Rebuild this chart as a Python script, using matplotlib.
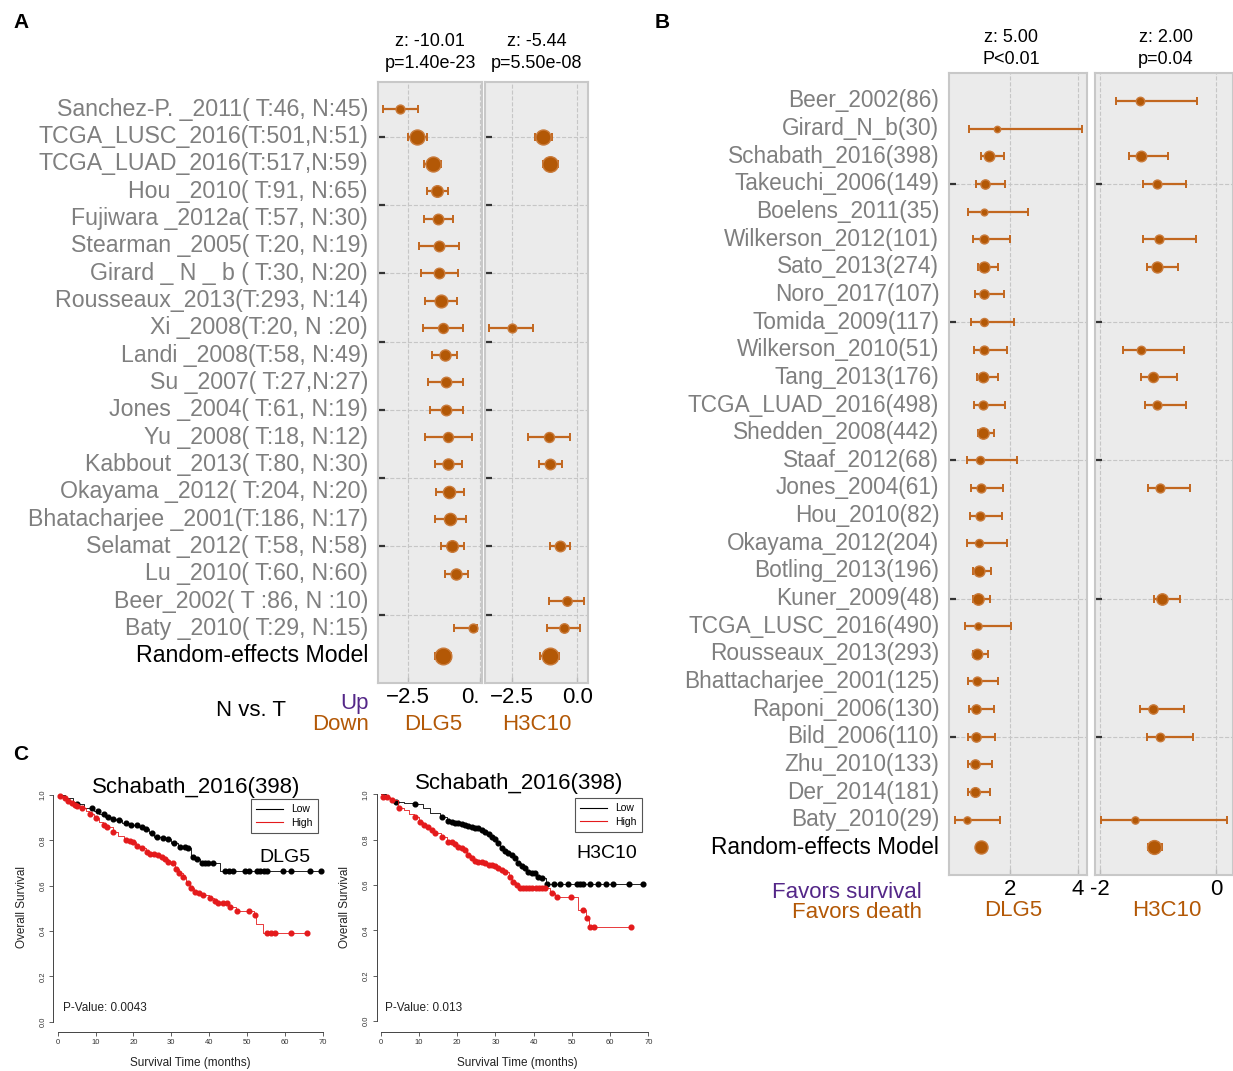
import numpy as np
import matplotlib
matplotlib.use("Agg")
import matplotlib.pyplot as plt

plt.rcParams["font.family"] = ["Liberation Sans", "DejaVu Sans"]

nan = np.nan

# %% Panel A data: N vs. T (log fold change with CI)
a_labels = [
    "Sanchez-P. _2011( T:46, N:45)", "TCGA_LUSC_2016(T:501,N:51)",
    "TCGA_LUAD_2016(T:517,N:59)", "Hou _2010( T:91, N:65)",
    "Fujiwara _2012a( T:57, N:30)", "Stearman _2005( T:20, N:19)",
    "Girard _ N _ b ( T:30, N:20)", "Rousseaux_2013(T:293, N:14)",
    "Xi _2008(T:20, N :20)", "Landi _2008(T:58, N:49)",
    "Su _2007( T:27,N:27)", "Jones _2004( T:61, N:19)",
    "Yu _2008( T:18, N:12)", "Kabbout _2013( T:80, N:30)",
    "Okayama _2012( T:204, N:20)", "Bhatacharjee _2001(T:186, N:17)",
    "Selamat _2012( T:58, N:58)", "Lu _2010( T:60, N:60)",
    "Beer_2002( T :86, N :10)", "Baty _2010( T:29, N:15)",
    "Random-effects Model",
]
a_dlg5_est = [-2.77, -2.18, -1.65, -1.49, -1.45, -1.44, -1.43, -1.37, -1.30, -1.23,
              -1.20, -1.17, -1.11, -1.10, -1.07, -1.06, -0.98, -0.83, nan, -0.23, -1.30]
a_dlg5_lo = [-3.37, -2.50, -1.94, -1.84, -1.95, -2.14, -2.06, -1.91, -2.00, -1.67,
             -1.80, -1.74, -1.91, -1.56, -1.53, -1.58, -1.37, -1.22, nan, -0.89, -1.56]
a_dlg5_hi = [-2.17, -1.84, -1.35, -1.10, -0.93, -0.73, -0.78, -0.80, -0.59, -0.80,
             -0.59, -0.59, -0.29, -0.62, -0.56, -0.49, -0.56, -0.42, nan, -0.09, -1.00]
a_dlg5_w = [0.3, 0.85, 0.85, 0.55, 0.45, 0.45, 0.45, 0.65, 0.4, 0.5,
            0.45, 0.45, 0.4, 0.5, 0.6, 0.6, 0.55, 0.5, nan, 0.3, 1.0]

a_h3c10_est = [nan, -1.32, -1.04, nan, nan, nan, nan, nan, -2.50, nan,
               nan, nan, -1.08, -1.03, nan, nan, -0.67, nan, -0.40, -0.52, -1.03]
a_h3c10_lo = [nan, -1.61, -1.32, nan, nan, nan, nan, nan, -3.36, nan,
              nan, nan, -1.87, -1.47, nan, nan, -1.04, nan, -1.07, -1.16, -1.41]
a_h3c10_hi = [nan, -0.98, -0.75, nan, nan, nan, nan, nan, -1.68, nan,
              nan, nan, -0.28, -0.58, nan, nan, -0.28, nan, 0.26, 0.10, -0.69]
a_h3c10_w = [nan, 0.85, 0.9, nan, nan, nan, nan, nan, 0.3, nan,
             nan, nan, 0.4, 0.45, nan, nan, 0.45, nan, 0.35, 0.35, 1.0]

a_titles = [("z: -10.01", "p=1.40e-23"), ("z: -5.44", "p=5.50e-08")]

# %% Panel B data: survival (HR with CI)
b_labels = [
    "Beer_2002(86)", "Girard_N_b(30)", "Schabath_2016(398)", "Takeuchi_2006(149)",
    "Boelens_2011(35)", "Wilkerson_2012(101)", "Sato_2013(274)", "Noro_2017(107)",
    "Tomida_2009(117)", "Wilkerson_2010(51)", "Tang_2013(176)", "TCGA_LUAD_2016(498)",
    "Shedden_2008(442)", "Staaf_2012(68)", "Jones_2004(61)", "Hou_2010(82)",
    "Okayama_2012(204)", "Botling_2013(196)", "Kuner_2009(48)", "TCGA_LUSC_2016(490)",
    "Rousseaux_2013(293)", "Bhattacharjee_2001(125)", "Raponi_2006(130)", "Bild_2006(110)",
    "Zhu_2010(133)", "Der_2014(181)", "Baty_2010(29)", "Random-effects Model",
]
b_dlg5_est = [nan, 1.61, 1.36, 1.25, 1.23, 1.22, 1.23, 1.22, 1.21, 1.21, 1.20, 1.20, 1.18, 1.12,
              1.13, 1.10, 1.07, 1.07, 1.04, 1.04, 1.01, 1.01, 0.99, 0.98, 0.96, 0.96, 0.72, 1.13]
b_dlg5_lo = [nan, 0.79, 1.13, 0.99, 0.76, 0.89, 1.04, 0.96, 0.84, 0.92, 1.01, 0.93, 1.05, 0.71,
             0.84, 0.82, 0.73, 0.90, 0.90, 0.66, 0.91, 0.76, 0.77, 0.74, 0.75, 0.76, 0.38, 1.08]
b_dlg5_hi = [nan, 4.10, 1.81, 1.84, 2.51, 1.99, 1.65, 1.82, 2.11, 1.90, 1.65, 1.84, 1.52, 2.19,
             1.79, 1.75, 1.90, 1.42, 1.39, 2.02, 1.34, 1.63, 1.51, 1.55, 1.47, 1.40, 1.69, 1.18]
b_dlg5_w = [nan, 0.1, 0.6, 0.45, 0.15, 0.4, 0.65, 0.45, 0.3, 0.4, 0.6, 0.4, 0.7, 0.3,
            0.4, 0.4, 0.3, 0.65, 0.7, 0.2, 0.6, 0.4, 0.45, 0.45, 0.45, 0.5, 0.2, 0.9]

b_h3c10_est = [-1.32, nan, -1.30, -1.03, nan, -0.99, -1.03, nan, nan, -1.29, -1.10, -1.02, nan, nan,
               -0.97, nan, nan, nan, -0.94, nan, nan, nan, -1.09, -0.97, nan, nan, -1.40, -1.07]
b_h3c10_lo = [-1.72, nan, -1.51, -1.26, nan, -1.26, -1.19, nan, nan, -1.61, -1.29, -1.23, nan, nan,
              -1.18, nan, nan, nan, -1.08, nan, nan, nan, -1.32, -1.19, nan, nan, -1.99, -1.17]
b_h3c10_hi = [-0.33, nan, -0.84, -0.52, nan, -0.35, -0.67, nan, nan, -0.55, -0.68, -0.53, nan, nan,
              -0.45, nan, nan, nan, -0.63, nan, nan, nan, -0.56, -0.41, nan, nan, 0.18, -0.93]
b_h3c10_w = [0.35, nan, 0.6, 0.4, nan, 0.4, 0.65, nan, nan, 0.35, 0.55, 0.4, nan, nan,
             0.4, nan, nan, nan, 0.7, nan, nan, nan, 0.45, 0.35, nan, nan, 0.2, 1.0]

b_titles = [("z: 5.00", "P<0.01"), ("z: 2.00", "p=0.04")]

# %% Panel C data: Kaplan-Meier steps (time, survival) and censor times
km_dlg5_low_t = [0, 2, 4, 4.8, 7, 9.5, 11, 12.5, 14, 15.5, 17, 18.8, 21.5, 22.8, 24, 25.5,
                 27.3, 28.8, 30, 31.8, 34, 35.3, 36.3, 37.5, 42.8]
km_dlg5_low_s = [1.0, 0.985, 0.97, 0.959, 0.944, 0.93, 0.918, 0.905, 0.894, 0.89, 0.876, 0.866,
                 0.86, 0.849, 0.831, 0.816, 0.812, 0.804, 0.79, 0.772, 0.765, 0.728, 0.716, 0.699, 0.665]
km_dlg5_low_c = [5.0, 9.0, 10.7, 12.1, 13.4, 14.5, 16.3, 18.0, 19.4, 20.9, 22.2, 23.2, 24.8, 26.2,
                 27.9, 29.2, 30.6, 32.3, 33.6, 34.5, 35.8, 36.7, 38.0, 38.9, 39.8, 41.1, 44.2, 45.1,
                 46.4, 49.4, 50.4, 52.6, 53.5, 54.4, 55.3, 59.6, 61.5, 66.7, 69.6]

km_dlg5_high_t = [0, 0.5, 1.5, 2.5, 3.5, 4.3, 5.0, 6.0, 7.5, 8.3, 9.5, 10.0, 11.0, 12.0, 12.8,
                  14.5, 16.0, 17.5, 19.0, 19.8, 20.8, 22.0, 23.3, 24.2, 25.2, 26.4, 27.3, 28.2,
                  29.0, 30.2, 31.0, 32.0, 33.0, 34.0, 35.0, 36.0, 37.2, 38.0, 40.0, 41.4, 42.2,
                  45.3, 47.0, 51.8, 52.3, 54.3]
km_dlg5_high_s = [1.0, 0.996, 0.985, 0.974, 0.963, 0.956, 0.951, 0.941, 0.93, 0.916, 0.905, 0.897,
                  0.88, 0.868, 0.86, 0.838, 0.82, 0.801, 0.797, 0.791, 0.775, 0.765, 0.75, 0.74,
                  0.738, 0.735, 0.728, 0.716, 0.704, 0.701, 0.676, 0.654, 0.64, 0.61, 0.588, 0.574,
                  0.566, 0.559, 0.547, 0.534, 0.522, 0.507, 0.488, 0.47, 0.43, 0.39]
km_dlg5_high_c = [0.6, 1.8, 2.8, 3.7, 4.6, 5.2, 6.3, 8.5, 10.1, 12.1, 12.9, 14.7, 18.0, 19.1, 20.0,
                  21.0, 22.2, 23.5, 24.4, 25.4, 26.6, 27.5, 28.4, 29.2, 30.4, 31.3, 32.1, 33.2,
                  34.3, 35.1, 36.3, 37.4, 38.3, 40.2, 41.6, 42.4, 43.6, 44.6, 45.5, 47.3, 50.4,
                  52.0, 55.2, 56.3, 57.4, 61.6, 65.8]

km_h3c10_low_t = [0, 1.5, 3, 6, 8.5, 11, 13, 15.5, 17.3, 18.3, 19.1, 20, 20.9, 21.8, 22.6, 23.5,
                  24.4, 25.2, 26, 27, 27.9, 28.7, 29.6, 30.5, 31.3, 32.2, 33.1, 34, 34.8, 35.7,
                  36.6, 37.4, 38.3, 39.2, 40.1, 41, 41.8, 43.2]
km_h3c10_low_s = [1.0, 0.985, 0.968, 0.962, 0.956, 0.94, 0.92, 0.899, 0.884, 0.879, 0.875, 0.872,
                  0.869, 0.865, 0.86, 0.857, 0.853, 0.85, 0.843, 0.835, 0.825, 0.813, 0.801, 0.784,
                  0.762, 0.751, 0.743, 0.732, 0.718, 0.696, 0.684, 0.674, 0.659, 0.654, 0.651,
                  0.637, 0.632, 0.603]
km_h3c10_low_c = [3.9, 9.0, 16.0, 17.7, 18.6, 19.4, 20.3, 21.2, 22.1, 22.9, 23.8, 24.7, 25.5, 26.4,
                  27.3, 28.2, 29.0, 29.9, 30.8, 31.6, 32.5, 33.4, 34.3, 35.1, 36.0, 36.9, 37.7,
                  38.6, 39.5, 40.4, 41.2, 42.1, 43.4, 45.2, 46.9, 49.1, 51.3, 52.1, 53.0, 54.7,
                  56.9, 58.9, 60.8, 64.9, 68.7]

km_h3c10_high_t = [0, 0.4, 1.4, 2.5, 4.5, 6, 7.5, 8.7, 10, 11.1, 12.2, 13, 13.9, 15.7, 17.4, 18.3,
                   19.1, 20, 20.9, 21.8, 22.6, 23.5, 24.4, 25.2, 26.1, 27, 27.9, 29.6, 30.5, 31.3,
                   32.2, 33.5, 34.4, 35.3, 36.1, 44.4, 45.7, 51.5, 53.6, 54.4]
km_h3c10_high_s = [1.0, 0.99, 0.987, 0.975, 0.941, 0.93, 0.915, 0.899, 0.879, 0.865, 0.854, 0.843,
                   0.831, 0.813, 0.791, 0.788, 0.781, 0.769, 0.762, 0.754, 0.732, 0.718, 0.707,
                   0.703, 0.700, 0.696, 0.688, 0.685, 0.674, 0.666, 0.659, 0.637, 0.615, 0.600,
                   0.588, 0.566, 0.549, 0.490, 0.453, 0.416]
km_h3c10_high_c = [0.7, 1.7, 2.9, 4.9, 9.0, 10.3, 11.4, 12.5, 13.3, 14.2, 16.0, 17.7, 18.6, 19.4,
                   20.3, 21.2, 22.1, 22.9, 23.8, 24.7, 25.5, 26.4, 27.3, 28.2, 29.0, 29.9, 30.8,
                   31.6, 32.5, 33.8, 34.7, 35.6, 36.4, 37.3, 38.1, 38.9, 39.7, 40.5, 41.3, 42.1,
                   42.9, 44.7, 46.0, 49.8, 52.8, 53.9, 54.7, 55.9, 65.6]

# %% Style
W, H = 1233, 1071
ORANGE = "#B35806"
PURPLE = "#542788"
BG = "#EBEBEB"
GRID = "#C6C6C6"
GRAYTXT = "#7F7F7F"


def rect(l, t, r, b):
    return [l / W, 1 - b / H, (r - l) / W, (b - t) / H]


def ftext(x, y, s, **kw):
    kw.setdefault("va", "center")
    fig.text(x / W, 1 - y / H, s, **kw)


def forest(ax, est, lo, hi, w, xlim, ylim, xticks, xlabels, ygrid, ms0, ms1):
    ax.set_facecolor(BG)
    for row, (e, l, h, s) in enumerate(zip(est, lo, hi, w)):
        if np.isnan(e):
            continue
        ax.errorbar(e, row, xerr=[[e - l], [h - e]], fmt="none", ecolor="#C2671F",
                    elinewidth=1.6, capsize=3, capthick=1.4, zorder=3)
        ax.plot(e, row, "o", ms=ms0 + ms1 * s, mfc=ORANGE, mec="#C97A3A",
                mew=1.0, zorder=4)
    ax.set_xlim(*xlim)
    ax.set_ylim(*ylim)
    ax.set_xticks(xticks)
    ax.set_xticklabels(xlabels, fontsize=16)
    ax.set_yticks(ygrid)
    ax.set_yticklabels([])
    ax.grid(True, ls="--", color=GRID, lw=0.8)
    ax.set_axisbelow(True)
    ax.tick_params(axis="y", direction="in", length=5, width=1.6, color="#333333")
    ax.tick_params(axis="x", direction="in", length=4, width=1.0, color="#BBBBBB", pad=3)
    for sp in ax.spines.values():
        sp.set_color("#C8C8C8")
        sp.set_linewidth(1.5)


def row_labels(ax, labels, size):
    for row, lab in enumerate(labels):
        last = row == len(labels) - 1
        ax.annotate(lab, xy=(0, row), xycoords=("axes fraction", "data"),
                    xytext=(-10, 0), textcoords="offset pixels", ha="right",
                    va="center", fontsize=size,
                    color="black" if last else GRAYTXT, annotation_clip=False)


def km(ax, t, s, cens, color, lw):
    t = np.asarray(t)
    s = np.asarray(s)
    cens = np.asarray(cens)
    end = max(cens.max(), t.max())
    ax.step(np.append(t, end), np.append(s, s[-1]), where="post", color=color, lw=lw)
    cy = s[np.searchsorted(t, cens, side="right") - 1]
    ax.plot(cens, cy, "o", ms=3.4, color=color, mec=color, ls="none")


def km_axes(ax, xlim, ylim):
    ax.set_xlim(*xlim)
    ax.set_ylim(*ylim)
    for sp in ["top", "right"]:
        ax.spines[sp].set_visible(False)
    ax.spines["left"].set_bounds(0, 1)
    ax.spines["bottom"].set_bounds(0, 70)
    for sp in ["left", "bottom"]:
        ax.spines[sp].set_color("#444444")
        ax.spines[sp].set_linewidth(0.7)
    ax.set_xticks(range(0, 71, 10))
    ax.set_yticks([0.0, 0.2, 0.4, 0.6, 0.8, 1.0])
    ax.set_yticklabels(["0.0", "0.2", "0.4", "0.6", "0.8", "1.0"], rotation=90, va="center")
    ax.tick_params(labelsize=5.5, length=3, width=0.6, color="#444444",
                   labelcolor="#333333", pad=2)


fig = plt.figure(figsize=(W / 100, H / 100), dpi=100)

# %% Panel A
a_ygrid = [1, 3.5, 6, 8.5, 11, 13.5, 16, 18.5]
ax_a1 = fig.add_axes(rect(378, 82, 482, 683))
forest(ax_a1, a_dlg5_est, a_dlg5_lo, a_dlg5_hi, a_dlg5_w, (-3.55, 0.07), (21, -1),
       [-2.5, 0], ["\u22122.5", "0."], a_ygrid, 4, 8)
ax_a1.get_xticklabels()[1].set_ha("right")
row_labels(ax_a1, a_labels, 16.7)
ax_a2 = fig.add_axes(rect(485.3, 82, 588.3, 683))
forest(ax_a2, a_h3c10_est, a_h3c10_lo, a_h3c10_hi, a_h3c10_w, (-3.5, 0.42), (21, -1),
       [-2.5, 0], ["\u22122.5", "0.0"], a_ygrid, 4, 8)

for cx, (z, p) in zip([430, 537], a_titles):
    ftext(cx, 42, z, ha="center", fontsize=13)
    ftext(cx, 64, p, ha="center", fontsize=13)
for cx, gene in zip([433, 537], ["DLG5", "H3C10"]):
    ftext(cx, 725, gene, ha="center", fontsize=16, color=ORANGE)
ftext(251, 710, "N vs. T", ha="center", fontsize=16)
ftext(369, 703, "Up", ha="right", fontsize=16, color=PURPLE)
ftext(369, 724, "Down", ha="right", fontsize=16, color=ORANGE)

# %% Panel B
b_ygrid = [3, 8, 13, 18, 23]
ax_b1 = fig.add_axes(rect(949.3, 73.3, 1087.3, 875))
forest(ax_b1, b_dlg5_est, b_dlg5_lo, b_dlg5_hi, b_dlg5_w, (0.2, 4.27), (28, -1),
       [2, 4], ["2", "4"], b_ygrid, 4, 6)
row_labels(ax_b1, b_labels, 16.3)
ax_b2 = fig.add_axes(rect(1095, 73.3, 1232.7, 875))
forest(ax_b2, b_h3c10_est, b_h3c10_lo, b_h3c10_hi, b_h3c10_w, (-2.09, 0.28), (28, -1),
       [-2, 0], ["-2", "0"], b_ygrid, 4, 6)

for cx, (z, p) in zip([1011, 1166], b_titles):
    ftext(cx, 38, z, ha="center", fontsize=13)
    ftext(cx, 60, p, ha="center", fontsize=13)
for cx, gene in zip([1013, 1167], ["DLG5", "H3C10"]):
    ftext(cx, 911, gene, ha="center", fontsize=16, color=ORANGE)
ftext(922, 892, "Favors survival", ha="right", fontsize=16, color=PURPLE)
ftext(922, 913, "Favors death", ha="right", fontsize=16, color=ORANGE)

# %% Panel C
km_specs = [
    dict(rect=(53.3, 786, 330, 1031.7), xlim=(-1.16, 71.9), ylim=(-0.044, 1.04),
         low=(km_dlg5_low_t, km_dlg5_low_s, km_dlg5_low_c),
         high=(km_dlg5_high_t, km_dlg5_high_s, km_dlg5_high_c),
         title=(196, 787), gene=("DLG5", 285, 857), pval=("P-Value: 0.0043", 62.7),
         ylab=21.7, xlab=190, legend=(250.7, 799)),
    dict(rect=(376.7, 785.3, 655, 1031.7), xlim=(-1.05, 71.75), ylim=(-0.047, 1.04),
         low=(km_h3c10_low_t, km_h3c10_low_s, km_h3c10_low_c),
         high=(km_h3c10_high_t, km_h3c10_high_s, km_h3c10_high_c),
         title=(519, 783), gene=("H3C10", 607, 853), pval=("P-Value: 0.013", 385),
         ylab=345, xlab=517, legend=(575, 798)),
]

for spec in km_specs:
    ax = fig.add_axes(rect(*spec["rect"]))
    km_axes(ax, spec["xlim"], spec["ylim"])
    km(ax, *spec["low"], color="black", lw=0.6)
    km(ax, *spec["high"], color="#E41A1C", lw=0.6)
    ftext(spec["title"][0], spec["title"][1], "Schabath_2016(398)", ha="center", fontsize=16)
    g, gx, gy = spec["gene"]
    ftext(gx, gy, g, ha="center", fontsize=14)
    ptxt, px = spec["pval"]
    ftext(px, 1008, ptxt, ha="left", fontsize=8.5, color="#222222")
    ftext(spec["ylab"], 907, "Overall Survival", ha="center", fontsize=8.5,
          rotation=90, color="#222222")
    ftext(spec["xlab"], 1063, "Survival Time (months)", ha="center", fontsize=8.5,
          color="#222222")
    h1, = ax.plot([], [], color="black", lw=0.8)
    h2, = ax.plot([], [], color="#E41A1C", lw=0.8)
    lx, ly = spec["legend"]
    leg = fig.legend([h1, h2], ["Low", "High"], loc="upper left",
                     bbox_to_anchor=(lx / W, 1 - ly / H), fontsize=7.5, fancybox=False,
                     edgecolor="#555555", framealpha=1, handlelength=2.6,
                     borderpad=0.5, labelspacing=0.35, borderaxespad=0)
    leg.get_frame().set_linewidth(0.8)

# %% Panel letters
ftext(13, 22, "A", ha="left", fontsize=15, fontweight="bold")
ftext(655, 22, "B", ha="left", fontsize=15, fontweight="bold")
ftext(13, 755, "C", ha="left", fontsize=15, fontweight="bold")

fig.savefig("out.png", dpi=100)
